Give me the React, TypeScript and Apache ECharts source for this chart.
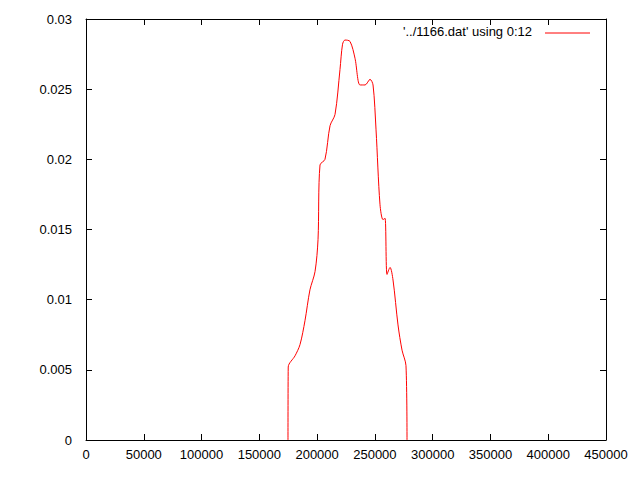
import { useEffect, useRef } from "react";
import * as echarts from "echarts";

const xs = [174800, 175000, 180900, 185200, 189500, 193800, 198200, 200800, 202500, 206800, 211200, 215500, 219800, 222000, 224100, 228500, 232800, 237100, 241500, 245800, 248400, 251000, 254400, 257000, 258800, 260500, 263100, 265700, 270000, 273500, 276900, 277800];
const ys = [0, 0.0052, 0.006, 0.0068, 0.0085, 0.0107, 0.012, 0.0143, 0.0196, 0.02, 0.0224, 0.0232, 0.0264, 0.0282, 0.0285, 0.0284, 0.0272, 0.0253, 0.0253, 0.0257, 0.0253, 0.0221, 0.0168, 0.0157, 0.0158, 0.0118, 0.0123, 0.0114, 0.0082, 0.0064, 0.0053, 0];
const legendLabel = "'../1166.dat' using 0:12";

export default function App() {
  const ref = useRef<HTMLDivElement>(null);
  useEffect(() => {
    if (!ref.current) return;
    const chart = echarts.init(ref.current, undefined, { renderer: "svg" });
    const axisCommon = {
      axisLine: { show: true, onZero: false, lineStyle: { color: "#000" } },
      axisTick: { show: true, inside: true, length: 6, lineStyle: { color: "#000" } },
      splitLine: { show: false },
    };
    const label = { color: "#000", fontSize: 13, fontFamily: "Liberation Sans, Arial, sans-serif" };
    chart.setOption({
      animation: false,
      backgroundColor: "#fff",
      grid: { left: 86, right: 34, top: 19, bottom: 40 },
      xAxis: [
        { type: "value", min: 0, max: 450000, interval: 50000, ...axisCommon, axisLabel: { ...label, margin: 8, formatter: (v: number) => String(v) } },
        { type: "value", position: "top", min: 0, max: 450000, interval: 50000, ...axisCommon, axisLabel: { show: false } },
      ],
      yAxis: [
        { type: "value", min: 0, max: 0.03, interval: 0.005, ...axisCommon, axisLabel: { ...label, margin: 14, formatter: (v: number) => String(+v.toFixed(3)) } },
        { type: "value", position: "right", min: 0, max: 0.03, interval: 0.005, ...axisCommon, axisLabel: { show: false } },
      ],
      series: [
        {
          type: "line",
          data: xs.map((x, i) => [x, ys[i]]),
          showSymbol: false,
          smooth: 0.3,
          lineStyle: { color: "#ff0000", width: 1 },
        },
      ],
      graphic: [
        { type: "text", right: 108, top: 25, style: { text: legendLabel, fill: "#000", fontSize: 13, fontFamily: "Liberation Sans, Arial, sans-serif" } },
        { type: "line", shape: { x1: 545, y1: 33, x2: 590, y2: 33 }, style: { stroke: "#ff0000", lineWidth: 1 } },
      ],
    });
    return () => chart.dispose();
  }, []);
  return <div ref={ref} style={{ width: 640, height: 480, margin: -8 }} />;
}
